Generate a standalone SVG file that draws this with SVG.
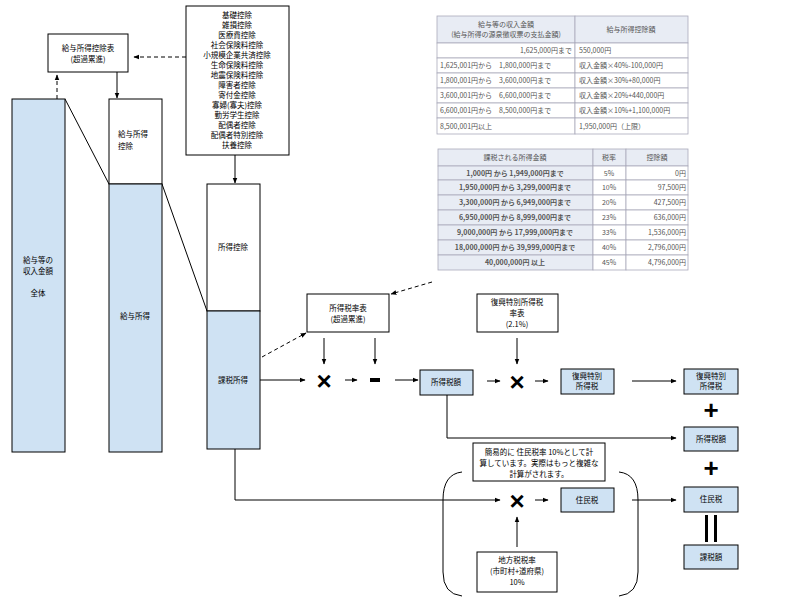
<svg xmlns="http://www.w3.org/2000/svg" width="800" height="600" viewBox="0 0 800 600">
<style>
text{font-family:"Noto Sans CJK JP","Liberation Sans",sans-serif;font-size:7.5px;fill:#000;text-anchor:middle}
text.s{text-anchor:start}
text.e{text-anchor:end}
.b{fill:#cfe2f3;stroke:#000;stroke-width:1}
.w{fill:#fff;stroke:#000;stroke-width:1}
.l{fill:none;stroke:#000;stroke-width:1}
.d{fill:none;stroke:#000;stroke-width:1;stroke-dasharray:4,3}
.op{font-family:"Liberation Sans",sans-serif;font-weight:bold;font-size:26px}
.t{fill:#fff;stroke:#aab;stroke-width:0.8}
.th{fill:#e8ecf4;stroke:#aab;stroke-width:0.8}
text.tt{font-size:7px;fill:#555}
</style>
<defs>
<marker id="a" viewBox="0 0 10 10" refX="9" refY="5" markerWidth="6" markerHeight="6" orient="auto"><path d="M0,1 L10,5 L0,9 z" fill="#000"/></marker>
</defs>
<g id="table1">
<rect class="th" x="437" y="16" width="138" height="27"/><rect class="th" x="575" y="16" width="113" height="27"/>
<rect class="t" x="437" y="43" width="138" height="15"/><rect class="t" x="575" y="43" width="113" height="15"/>
<rect class="t" x="437" y="58" width="138" height="15"/><rect class="t" x="575" y="58" width="113" height="15"/>
<rect class="t" x="437" y="73" width="138" height="15"/><rect class="t" x="575" y="73" width="113" height="15"/>
<rect class="t" x="437" y="88" width="138" height="15"/><rect class="t" x="575" y="88" width="113" height="15"/>
<rect class="t" x="437" y="103" width="138" height="15"/><rect class="t" x="575" y="103" width="113" height="15"/>
<rect class="t" x="437" y="118" width="138" height="16"/><rect class="t" x="575" y="118" width="113" height="16"/>
<text class="tt" x="506" y="27">給与等の収入金額</text><text class="tt" x="506" y="37">(給与所得の源泉徴収票の支払金額)</text>
<text class="tt" x="631" y="32">給与所得控除額</text>
<text class="tt e" x="572" y="53">1,625,000円まで</text>
<text class="tt s" x="440" y="68">1,625,001円から　1,800,000円まで</text>
<text class="tt s" x="440" y="83">1,800,001円から　3,600,000円まで</text>
<text class="tt s" x="440" y="98">3,600,001円から　6,600,000円まで</text>
<text class="tt s" x="440" y="113">6,600,001円から　8,500,000円まで</text>
<text class="tt s" x="440" y="129">8,500,001円以上</text>
<text class="tt s" x="579" y="53">550,000円</text>
<text class="tt s" x="579" y="68">収入金額×40%-100,000円</text>
<text class="tt s" x="579" y="83">収入金額×30%+80,000円</text>
<text class="tt s" x="579" y="98">収入金額×20%+440,000円</text>
<text class="tt s" x="579" y="113">収入金額×10%+1,100,000円</text>
<text class="tt s" x="579" y="129">1,950,000円（上限）</text>
</g>
<g id="table2">
<rect class="th" x="438" y="149" width="155" height="17"/><rect class="th" x="593" y="149" width="33" height="17"/><rect class="th" x="626" y="149" width="62" height="17"/>
<rect class="th" x="438" y="166" width="155" height="14"/><rect class="t" x="593" y="166" width="33" height="14"/><rect class="t" x="626" y="166" width="62" height="14"/>
<rect class="th" x="438" y="180" width="155" height="15"/><rect class="t" x="593" y="180" width="33" height="15"/><rect class="t" x="626" y="180" width="62" height="15"/>
<rect class="th" x="438" y="195" width="155" height="15"/><rect class="t" x="593" y="195" width="33" height="15"/><rect class="t" x="626" y="195" width="62" height="15"/>
<rect class="th" x="438" y="210" width="155" height="15"/><rect class="t" x="593" y="210" width="33" height="15"/><rect class="t" x="626" y="210" width="62" height="15"/>
<rect class="th" x="438" y="225" width="155" height="15"/><rect class="t" x="593" y="225" width="33" height="15"/><rect class="t" x="626" y="225" width="62" height="15"/>
<rect class="th" x="438" y="240" width="155" height="15"/><rect class="t" x="593" y="240" width="33" height="15"/><rect class="t" x="626" y="240" width="62" height="15"/>
<rect class="th" x="438" y="255" width="155" height="15"/><rect class="t" x="593" y="255" width="33" height="15"/><rect class="t" x="626" y="255" width="62" height="15"/>
<text class="tt" x="515" y="160">課税される所得金額</text><text class="tt" x="609" y="160">税率</text><text class="tt" x="657" y="160">控除額</text>
<g font-weight="bold">
<text class="tt" x="515" y="176">1,000円 から 1,949,000円まで</text>
<text class="tt" x="515" y="190">1,950,000円 から 3,299,000円まで</text>
<text class="tt" x="515" y="205">3,300,000円 から 6,949,000円まで</text>
<text class="tt" x="515" y="220">6,950,000円 から 8,999,000円まで</text>
<text class="tt" x="515" y="235">9,000,000円 から 17,999,000円まで</text>
<text class="tt" x="515" y="250">18,000,000円 から 39,999,000円まで</text>
<text class="tt" x="515" y="265">40,000,000円 以上</text>
</g>
<text class="tt" x="609" y="176">5%</text><text class="tt" x="609" y="190">10%</text><text class="tt" x="609" y="205">20%</text><text class="tt" x="609" y="220">23%</text><text class="tt" x="609" y="235">33%</text><text class="tt" x="609" y="250">40%</text><text class="tt" x="609" y="265">45%</text>
<text class="tt e" x="686" y="176">0円</text>
<text class="tt e" x="686" y="190">97,500円</text>
<text class="tt e" x="686" y="205">427,500円</text>
<text class="tt e" x="686" y="220">636,000円</text>
<text class="tt e" x="686" y="235">1,536,000円</text>
<text class="tt e" x="686" y="250">2,796,000円</text>
<text class="tt e" x="686" y="265">4,796,000円</text>
</g>
<g id="connectors">
<line class="l" x1="65" y1="99" x2="109" y2="184"/>
<line class="l" x1="162" y1="184" x2="207" y2="311"/>
<line class="d" x1="57" y1="99" x2="57" y2="75" marker-end="url(#a)"/>
<line class="l" x1="117" y1="72" x2="117" y2="98" marker-end="url(#a)"/>
<line class="d" x1="186" y1="57" x2="134" y2="57" marker-end="url(#a)"/>
<line class="l" x1="235" y1="155" x2="235" y2="183" marker-end="url(#a)"/>
<line class="d" x1="262" y1="357" x2="306" y2="333" marker-end="url(#a)"/>
<line class="d" x1="432" y1="282" x2="391" y2="294" marker-end="url(#a)"/>
<line class="l" x1="324" y1="338" x2="324" y2="364" marker-end="url(#a)"/>
<line class="l" x1="375" y1="338" x2="375" y2="364" marker-end="url(#a)"/>
<line class="l" x1="517" y1="338" x2="517" y2="364" marker-end="url(#a)"/>
<line class="l" x1="260" y1="380" x2="305" y2="380" marker-end="url(#a)"/>
<line class="l" x1="345" y1="380" x2="357" y2="380" marker-end="url(#a)"/>
<line class="l" x1="395" y1="380" x2="418" y2="380" marker-end="url(#a)"/>
<line class="l" x1="487" y1="381" x2="500" y2="381" marker-end="url(#a)"/>
<line class="l" x1="535" y1="381" x2="548" y2="381" marker-end="url(#a)"/>
<line class="l" x1="632" y1="381" x2="676" y2="381" marker-end="url(#a)"/>
<polyline class="l" points="447,395 447,438 676,438" marker-end="url(#a)"/>
<polyline class="l" points="235,449 235,500 500,500" marker-end="url(#a)"/>
<line class="l" x1="535" y1="500" x2="548" y2="500" marker-end="url(#a)"/>
<line class="l" x1="632" y1="500" x2="676" y2="500" marker-end="url(#a)"/>
<line class="l" x1="517" y1="547" x2="517" y2="517" marker-end="url(#a)"/>
<path class="l" d="M462,472 Q443,474 443,500 L443,572 Q443,594 462,596"/>
<path class="l" d="M619,472 Q638,474 638,500 L638,572 Q638,594 619,596"/>
</g>
<g id="kyuyo-total"><rect class="b" x="12" y="99" width="53" height="353"/><text x="38" y="263">給与等の</text><text x="38" y="274">収入金額</text><text x="38" y="296">全体</text></g>
<g id="kyuyo-kojo"><rect class="w" x="109" y="99" width="53" height="85"/><text class="s" x="118" y="137">給与所得</text><text class="s" x="118" y="149">控除</text></g>
<g id="kyuyo-shotoku"><rect class="b" x="109" y="184" width="53" height="268"/><text x="135" y="319">給与所得</text></g>
<g id="shotoku-kojo"><rect class="w" x="207" y="184" width="53" height="127"/><text x="233" y="250">所得控除</text></g>
<g id="kazei-shotoku"><rect class="b" x="207" y="311" width="53" height="138"/><text x="233" y="383">課税所得</text></g>
<g id="kyuyo-table"><rect class="w" x="48" y="34" width="80" height="38"/><text x="88" y="51">給与所得控除表</text><text x="88" y="62">(超過累進)</text></g>
<g id="deductions"><rect class="w" x="186" y="6" width="103" height="149"/>
<text x="237" y="18">基礎控除</text><text x="237" y="28">雑損控除</text><text x="237" y="38">医療費控除</text><text x="237" y="48">社会保険料控除</text><text x="237" y="58">小規模企業共済控除</text><text x="237" y="68">生命保険料控除</text><text x="237" y="78">地震保険料控除</text><text x="237" y="88">障害者控除</text><text x="237" y="98">寄付金控除</text><text x="237" y="108">寡婦(寡夫)控除</text><text x="237" y="118">勤労学生控除</text><text x="237" y="128">配偶者控除</text><text x="237" y="138">配偶者特別控除</text><text x="237" y="148">扶養控除</text></g>
<g id="rate-table"><rect class="w" x="307" y="294" width="82" height="38"/><text x="348" y="311">所得税率表</text><text x="348" y="322">(超過累進)</text></g>
<g id="fukko-rate"><rect class="w" x="477" y="294" width="81" height="38"/><text x="517" y="305">復興特別所得税</text><text x="517" y="316">率表</text><text x="517" y="327">(2.1%)</text></g>
<g id="op1"><text class="op" x="324" y="390">×</text></g>
<g id="op2"><rect x="370" y="378" width="10" height="4" fill="#000"/></g>
<g id="shotokuzei"><rect class="b" x="420" y="370" width="53" height="25"/><text x="446" y="385">所得税額</text></g>
<g id="op3"><text class="op" x="517" y="391">×</text></g>
<g id="fukko"><rect class="b" x="561" y="369" width="53" height="25"/><text x="587" y="379">復興特別</text><text x="587" y="389">所得税</text></g>
<g id="fukko-r"><rect class="b" x="684" y="369" width="54" height="25"/><text x="711" y="379">復興特別</text><text x="711" y="389">所得税</text></g>
<g id="plus1"><text class="op" x="711" y="419">+</text></g>
<g id="shotokuzei-r"><rect class="b" x="684" y="427" width="54" height="24"/><text x="711" y="442">所得税額</text></g>
<g id="plus2"><text class="op" x="711" y="477">+</text></g>
<g id="juminzei-r"><rect class="b" x="684" y="487" width="54" height="25"/><text x="711" y="502">住民税</text></g>
<g id="eq"><rect x="705" y="515" width="3" height="27" fill="#000"/><rect x="714" y="515" width="3" height="27" fill="#000"/></g>
<g id="kazeigaku"><rect class="b" x="684" y="545" width="54" height="24"/><text x="711" y="560">課税額</text></g>
<g id="note"><rect class="w" x="473" y="443" width="132" height="38"/><text x="539" y="455">簡易的に 住民税率 10%として計</text><text x="539" y="466">算しています。実際はもっと複雑な</text><text x="539" y="477">計算がされます。</text></g>
<g id="op4"><text class="op" x="517" y="510">×</text></g>
<g id="juminzei"><rect class="b" x="561" y="488" width="53" height="24"/><text x="587" y="503">住民税</text></g>
<g id="chiho"><rect class="w" x="477" y="552" width="80" height="40"/><text x="517" y="563">地方税税率</text><text x="517" y="574">(市町村+道府県)</text><text x="517" y="585">10%</text></g>
</svg>
